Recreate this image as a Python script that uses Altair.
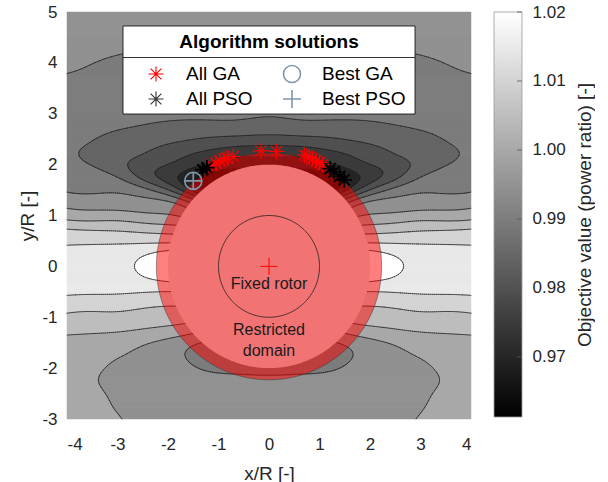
import numpy as np
import pandas as pd
import altair as alt

alt.data_transformers.disable_max_rows()
FONT = "Liberation Sans"

# ---------------- values ----------------
levels = [0.965, 0.970, 0.975, 0.980, 0.985, 0.990, 0.995, 1.000, 1.005, 1.010, 1.015]
c_min, c_max = 0.9613, 1.02
cbar_ticks = [0.97, 0.98, 0.99, 1.00, 1.01, 1.02]
x_ticks = [-4, -3, -2, -1, 0, 1, 2, 3, 4]
y_ticks = [-3, -2, -1, 0, 1, 2, 3, 4, 5]

# contour-line readings, left half (the map is mirror symmetric in x)
c0970_x = [-1.78, -1.68, -1.55, -1.37, -1.15, -0.95, -1.72]
c0970_y = [1.68, 1.85, 1.93, 1.99, 2.05, 2.10, 1.60]
c0975_x = [-2.22, -2.10, -1.95, -1.76, -1.45, -1.17, -0.60, 0.00, -2.05, -1.83]
c0975_y = [1.80, 1.95, 2.04, 2.12, 2.22, 2.29, 2.36, 2.38, 1.66, 1.55]
c0980_x = [-2.81, -2.70, -2.42, -2.00, -1.50, -0.70, 0.00, -2.55, -2.25, -1.88]
c0980_y = [1.92, 2.08, 2.25, 2.40, 2.50, 2.56, 2.58, 1.72, 1.58, 1.46]
c0985_x = [-3.78, -3.62, -3.35, -2.90, -2.50, -1.50, 0.00, -3.40, -3.00, -2.60, -2.20, -1.92]
c0985_y = [2.15, 2.38, 2.55, 2.70, 2.78, 2.88, 2.93, 1.93, 1.76, 1.60, 1.47, 1.38]
c0990_x = [-4.00, -3.50, -2.88, -2.20, -1.20, 0.00, -4.00, -3.40, -2.80, -2.30, -1.97]
c0990_y = [3.79, 3.98, 4.18, 4.32, 4.44, 4.50, 1.46, 1.43, 1.39, 1.33, 1.27]
c0995_x = [-4.0, -3.3, -2.6, -2.05]
c0995_y = [1.14, 1.11, 1.07, 1.03]
c1000_x = [-4.0, -3.3, -2.6, -2.12, -4.0, -3.3, -2.6, -2.0]
c1000_y = [0.91, 0.89, 0.86, 0.83, -1.35, -1.31, -1.24, -1.17]
c1005_x = [-4.0, -3.3, -2.6, -2.17, -4.0, -3.3, -2.6, -2.15]
c1005_y = [0.74, 0.71, 0.67, 0.64, -0.92, -0.89, -0.84, -0.79]
c1010_x = [-4.0, -3.3, -2.6, -2.2, -4.0, -3.3, -2.6, -2.2]
c1010_y = [0.42, 0.43, 0.45, 0.46, -0.57, -0.55, -0.52, -0.50]
c1015_x = [-2.65, -2.60, -2.45, -2.22, -2.60, -2.45, -2.22]
c1015_y = [0.00, 0.12, 0.22, 0.28, -0.12, -0.22, -0.27]
# lower lobe: large oval (0.995) and crescent under the domain (0.990)
c0995b_x = [-2.90, -3.05, -3.22, -3.37, -3.39, -3.30, -3.01, -2.50, -2.00]
c0995b_y = [-3.00, -2.82, -2.55, -2.25, -2.31, -2.05, -1.82, -1.55, -1.42]
c0990b_x = [-1.66, -1.50, -1.17, -0.60, 0.00]
c0990b_y = [-1.78, -1.95, -2.07, -2.12, -2.14]

# readings of the fill band inside the contour regions
band_x = [-4, -2, 0, -4, -1, -3, -4, -3.5, -3.3, -2.5, -4,
          -4, -4, -4, -3, -1.5, 0, -3.6, -2.2, 0, -4, -4, 0, -4, -3.95,
          -3.2, -2.2, 0, -3.3, 0,
          -2.5, -1.5, 0,
          -2.0, -1.2, 0,
          -1.5,
          -4, -3, -2.1, -4, -3, -4, -3, -4, -3,
          -4, -4, -4, -3, -2.45, -2.25, -3, -3,
          -4, -3, -4, -3,
          -4, -4, -4, -3.6, -2.55, -3.5, -3.3, -3.6, -3.15, -3.5,
          -2.5, -1.5, 0, -2.9, -2.0, -1.0, 0, -2.0, -2.6, -2.7, -3.1,
          -1.3, 0]
band_y = [5, 5, 5, 4.4, 4.8, 4.7, 4.0, 4.3, 4.5, 4.6, 4.7,
          3.2, 2.5, 1.9, 3.4, 3.6, 3.6, 1.75, 4.0, 4.2, 3.5, 2.15, 3.3, 2.35, 2.0,
          2.3, 2.6, 2.75, 2.1, 3.0,
          2.0, 2.35, 2.48,
          1.85, 2.17, 2.28,
          1.75,
          1.3, 1.25, 1.16, 1.02, 1.0, 0.82, 0.8, 0.58, 0.57,
          0.2, 0.0, -0.3, 0.0, 0.0, 0.0, 0.3, -0.35,
          -0.74, -0.72, -1.13, -1.1,
          -1.8, -2.5, -3.0, -2.9, -1.4, -1.6, -2.95, -2.2, -3.0, -2.5,
          -2.5, -2.8, -2.8, -2.2, -1.8, -2.5, -3.0, -3.0, -2.95, -3.0, -2.4,
          -1.9, -2.0]
band_v = [0.9925, 0.9925, 0.9925, 0.9915, 0.9915, 0.9915, 0.9907, 0.9907, 0.991, 0.991, 0.9915,
          0.988, 0.9875, 0.9875, 0.988, 0.988, 0.988, 0.9875, 0.9885, 0.9893, 0.9885, 0.9865, 0.987,
          0.9868, 0.9868,
          0.9825, 0.9825, 0.9825, 0.9835, 0.9853,
          0.9775, 0.9775, 0.9775,
          0.9725, 0.9725, 0.9728,
          0.966,
          0.9925, 0.9925, 0.9925, 0.9975, 0.9975, 1.0025, 1.0025, 1.0075, 1.0075,
          1.012, 1.0125, 1.012, 1.0135, 1.017, 1.0185, 1.012, 1.012,
          1.0075, 1.0075, 1.0025, 1.0025,
          0.9975, 0.9975, 0.9975, 0.9972, 0.9975, 0.9975, 0.9966, 0.997, 0.9962, 0.9972,
          0.9925, 0.992, 0.992, 0.9928, 0.9925, 0.9915, 0.9922, 0.993, 0.9935, 0.9937, 0.9937,
          0.9885, 0.988]

# algorithm solutions
ga_x = [-1.13, -1.05, -0.97, -0.89, -0.83, -0.71, -0.16, 0.15, 0.70, 0.75, 0.80, 0.86, 0.94, 1.00, 1.06]
ga_y = [1.99, 2.03, 2.07, 2.11, 2.13, 2.16, 2.27, 2.26, 2.19, 2.17, 2.14, 2.11, 2.08, 2.04, 2.00]
pso_x = [-1.31, -1.23, 1.21, 1.29, 1.40, 1.49]
pso_y = [1.90, 1.94, 1.92, 1.86, 1.77, 1.70]
best_ga = (-1.50, 1.68)
best_pso = (-1.50, 1.68)

# geometry
r_domain_outer = 2.23
r_domain_inner = 2.00
r_rotor = 1.0
note_text = ["Fixed rotor", "Restricted", "domain"]
note_x = [0.0, 0.0, 0.0]
note_y = [-0.34, -1.25, -1.66]
legend_labels = ["All GA", "All PSO", "Best GA", "Best PSO"]

# ---------------- smooth surface through the readings ----------------
bx_c = np.arange(0.0, 5.41, 0.6)
by_c = np.arange(-3.5, 5.51, 0.25)
wx, wy = 0.6, 0.25


def basis_x(x):
    x = np.asarray(x, float)[:, None]
    g = np.exp(-((x - bx_c) / wx) ** 2) + np.exp(-((x + bx_c) / wx) ** 2)
    g[:, 0] *= 0.5
    return g


def basis_y(y):
    y = np.asarray(y, float)[:, None]
    return np.exp(-((y - by_c) / wy) ** 2)


readings = [
    (0.970, c0970_x, c0970_y), (0.975, c0975_x, c0975_y), (0.980, c0980_x, c0980_y),
    (0.985, c0985_x, c0985_y), (0.990, c0990_x, c0990_y), (0.995, c0995_x, c0995_y),
    (1.000, c1000_x, c1000_y), (1.005, c1005_x, c1005_y), (1.010, c1010_x, c1010_y),
    (1.015, c1015_x, c1015_y), (0.995, c0995b_x, c0995b_y), (0.990, c0990b_x, c0990b_y),
]
px, py, pv, pw = [], [], [], []
for lv, xs_, ys_ in readings:
    px += list(xs_); py += list(ys_); pv += [lv] * len(xs_); pw += [4.0] * len(xs_)
px += band_x; py += band_y; pv += band_v; pw += [1.5] * len(band_x)
px, py, pv, pw = map(np.array, (px, py, pv, pw))

Bx = basis_x(px)
By = basis_y(py)
A = (By[:, :, None] * Bx[:, None, :]).reshape(len(px), -1)
nyb, nxb = len(by_c), len(bx_c)


def d2(n):
    D = np.zeros((n - 2, n))
    for i in range(n - 2):
        D[i, i:i + 3] = [1.0, -2.0, 1.0]
    return D


Dy, Dx = d2(nyb), d2(nxb)
P = (0.004 * np.kron(Dy.T @ Dy, np.eye(nxb)) + 0.004 * np.kron(np.eye(nyb), Dx.T @ Dx)
     + 1e-5 * np.eye(nyb * nxb))
lhs = A.T @ (A * pw[:, None]) + P
rhs = A.T @ (pw * (pv - 1.0))
coef = np.linalg.solve(lhs, rhs).reshape(nyb, nxb)


def field(xg, yg):
    return 1.0 + basis_y(yg) @ coef @ basis_x(xg).T


# filled bands (one rect per run of equal band)
NXC, NYC = 404, 407
xe = np.linspace(-4, 4, NXC + 1)
ye = np.linspace(-3, 5, NYC + 1)
Fc = field((xe[:-1] + xe[1:]) / 2, (ye[:-1] + ye[1:]) / 2)
lev_arr = np.array(levels)
uppers = np.array(levels + [c_max])
band = np.searchsorted(lev_arr, Fc, side="right")
rects = []
open_ = {}
for j in range(NYC):
    b = band[j]
    cut = np.flatnonzero(np.diff(b)) + 1
    st = np.concatenate([[0], cut]).astype(int)
    en = np.concatenate([cut, [NXC]]).astype(int)
    cur = {}
    for s, e in zip(st, en):
        key = (int(s), int(e), int(b[s]))
        cur[key] = open_.pop(key) if key in open_ else j
    for key, j0 in open_.items():
        rects.append((key, j0, j))
    open_ = cur
for key, j0 in open_.items():
    rects.append((key, j0, NYC))
fill_df = pd.DataFrame({
    "x": [round(xe[k[0]], 4) for k, _, _ in rects],
    "x2": [round(xe[k[1]], 4) for k, _, _ in rects],
    "y": [round(ye[j0], 4) for _, j0, _ in rects],
    "y2": [round(ye[j1], 4) for _, _, j1 in rects],
    "c": [float(uppers[k[2]]) for k, _, _ in rects],
})

# contour lines (marching squares)
gx = np.linspace(-4, 4, 201)
gy = np.linspace(-3, 5, 201)
G = field(gx, gy)
segs = []
for lv in levels:
    ab = G >= lv
    cnt = ab[:-1, :-1].astype(int) + ab[:-1, 1:] + ab[1:, :-1] + ab[1:, 1:]
    jj, ii = np.nonzero((cnt > 0) & (cnt < 4))
    for j, i in zip(jj, ii):
        x0, x1, y0, y1 = gx[i], gx[i + 1], gy[j], gy[j + 1]
        f00, f10, f01, f11 = G[j, i], G[j, i + 1], G[j + 1, i], G[j + 1, i + 1]
        pts = []
        if (f00 >= lv) != (f10 >= lv):
            t = (lv - f00) / (f10 - f00); pts.append((x0 + t * (x1 - x0), y0))
        if (f10 >= lv) != (f11 >= lv):
            t = (lv - f10) / (f11 - f10); pts.append((x1, y0 + t * (y1 - y0)))
        if (f01 >= lv) != (f11 >= lv):
            t = (lv - f01) / (f11 - f01); pts.append((x0 + t * (x1 - x0), y1))
        if (f00 >= lv) != (f01 >= lv):
            t = (lv - f00) / (f01 - f00); pts.append((x0, y0 + t * (y1 - y0)))
        pairs = []
        if len(pts) == 2:
            pairs = [(pts[0], pts[1])]
        elif len(pts) == 4:
            pairs = [(pts[0], pts[1]), (pts[2], pts[3])]
        for p, q in pairs:
            mx, my = (p[0] + q[0]) / 2, (p[1] + q[1]) / 2
            if mx * mx + my * my < r_domain_inner ** 2:
                continue
            segs.append((round(p[0], 4), round(p[1], 4), round(q[0], 4), round(q[1], 4)))
seg_df = pd.DataFrame(segs, columns=["x", "y", "x2", "y2"])

# ---------------- chart ----------------
xscale = alt.Scale(domain=[-4, 4], nice=False, zero=False)
yscale = alt.Scale(domain=[-3, 5], nice=False, zero=False)
xaxis = alt.Axis(values=x_ticks, labelExpr="'' + datum.value", title="x/R [-]",
                 labelPadding=17, titlePadding=12)
yaxis = alt.Axis(values=y_ticks, labelExpr="'' + datum.value", title="y/R [-]",
                 labelPadding=10, titlePadding=5, titleX=-30)
cscale = alt.Scale(domain=[c_min, c_max], range=["#000000", "#ffffff"], interpolate="rgb")


def X(f="x"):
    return alt.X(f + ":Q", scale=xscale, axis=xaxis)


def Y(f="y"):
    return alt.Y(f + ":Q", scale=yscale, axis=yaxis)


fill = alt.Chart(fill_df).mark_rect(strokeWidth=0.5).encode(
    x=X(), x2="x2:Q", y=Y(), y2="y2:Q",
    color=alt.Color("c:Q", scale=cscale, legend=None),
    stroke=alt.Stroke("c:Q", scale=cscale, legend=None),
)
lines = alt.Chart(seg_df).mark_rule(color="#1a1a1a", strokeWidth=0.65, opacity=1,
                                    strokeCap="round").encode(
    x=X(), y=Y(), x2="x2:Q", y2="y2:Q")


def disk_df(r):
    t = np.linspace(np.pi, 0, 241)
    return pd.DataFrame({"x": r * np.cos(t), "y": r * np.sin(t), "y2": -r * np.sin(t)})


def ring_df(r):
    t = np.linspace(0, 2 * np.pi, 361)
    return pd.DataFrame({"x": r * np.cos(t), "y": r * np.sin(t), "i": np.arange(361)})


outer = alt.Chart(disk_df(r_domain_outer)).mark_area(color="#ff0000", opacity=0.5).encode(
    x=X(), y=Y(), y2="y2:Q")
inner = alt.Chart(disk_df(r_domain_inner)).mark_area(color="#f17373", opacity=1).encode(
    x=X(), y=Y(), y2="y2:Q")
outer_edge = alt.Chart(ring_df(r_domain_outer)).mark_line(color="#333333", strokeWidth=0.6,
                                                          opacity=0.8).encode(
    x=X(), y=Y(), order="i:Q")
rotor_edge = alt.Chart(ring_df(r_rotor)).mark_line(color="#1a1a1a", strokeWidth=0.8).encode(
    x=X(), y=Y(), order="i:Q")

notes = alt.Chart(pd.DataFrame({"x": note_x, "y": note_y, "t": note_text})).mark_text(
    font=FONT, fontSize=16, color="#1a1a1a", baseline="middle", align="center").encode(
    x=X(), y=Y(), text="t:N")

ASTER = "M-1,0L1,0M0,-1L0,1M-0.72,-0.72L0.72,0.72M-0.72,0.72L0.72,-0.72"
PLUS = "M-1,0L1,0M0,-1L0,1"
STEEL = "#7f97ae"

origin = alt.Chart(pd.DataFrame({"x": [0.0], "y": [0.0]})).mark_point(
    shape=PLUS, size=289, filled=False, color="#ff0000", strokeWidth=1, opacity=1).encode(x=X(), y=Y())
ga = alt.Chart(pd.DataFrame({"x": ga_x, "y": ga_y})).mark_point(
    shape=ASTER, size=240, filled=False, color="#ff0000", strokeWidth=1.1, opacity=1).encode(x=X(), y=Y())
pso = alt.Chart(pd.DataFrame({"x": pso_x, "y": pso_y})).mark_point(
    shape=ASTER, size=240, filled=False, color="#000000", strokeWidth=1.7, opacity=1).encode(x=X(), y=Y())
bga = alt.Chart(pd.DataFrame({"x": [best_ga[0]], "y": [best_ga[1]]})).mark_point(
    shape="circle", size=289, filled=False, color=STEEL, strokeWidth=1.6, opacity=1).encode(x=X(), y=Y())
bpso = alt.Chart(pd.DataFrame({"x": [best_pso[0]], "y": [best_pso[1]]})).mark_point(
    shape=PLUS, size=324, filled=False, color=STEEL, strokeWidth=1.6, opacity=1).encode(x=X(), y=Y())

# legend box (pixel layout inside the plot area)
LX0, LX1, LY0, LY1, LSEP = 56, 348, 14, 102, 45.5
one = pd.DataFrame({"a": [0]})
leg_box = alt.Chart(one).mark_rect(fill="white", stroke="#000000", strokeWidth=0.8).encode(
    x=alt.value(LX0), x2=alt.value(LX1), y=alt.value(LY0), y2=alt.value(LY1))
leg_sep = alt.Chart(one).mark_rule(color="#000000", strokeWidth=0.8).encode(
    x=alt.value(LX0), x2=alt.value(LX1), y=alt.value(LSEP))
leg_title = alt.Chart(one).mark_text(text="Algorithm solutions", font=FONT, fontSize=19,
                                     fontWeight="bold", color="#000000", align="center",
                                     baseline="middle").encode(x=alt.value(202), y=alt.value(30))
sym_x = [89, 89, 225, 225]
row_y = [62, 87, 62, 87]
sym_shape = [ASTER, ASTER, "circle", PLUS]
sym_color = ["#ff0000", "#333333", STEEL, STEEL]
sym_size = [225, 225, 289, 324]
sym_w = [1.1, 1.1, 1.6, 1.6]
leg_layers = [leg_box, leg_sep, leg_title]
for k in range(4):
    leg_layers.append(alt.Chart(one).mark_point(
        shape=sym_shape[k], size=sym_size[k], filled=False, color=sym_color[k],
        strokeWidth=sym_w[k], opacity=1).encode(x=alt.value(sym_x[k]), y=alt.value(row_y[k])))
    leg_layers.append(alt.Chart(one).mark_text(
        text=legend_labels[k], font=FONT, fontSize=19, color="#000000", align="left",
        baseline="middle").encode(x=alt.value(sym_x[k] + 30), y=alt.value(row_y[k])))

main = alt.layer(fill, lines, outer, inner, outer_edge, rotor_edge, notes, origin,
                 ga, pso, bga, bpso, *leg_layers).properties(width=404, height=407)

# colour bar
cb = alt.Chart(pd.DataFrame({"lo": [c_min], "hi": [c_max]})).mark_rect(
    color=alt.Gradient(gradient="linear",
                       stops=[alt.GradientStop(color="#000000", offset=0),
                              alt.GradientStop(color="#ffffff", offset=1)],
                       x1=0, x2=0, y1=1, y2=0),
    stroke="#999999", strokeWidth=0.8).encode(
    x=alt.value(0), x2=alt.value(28),
    y=alt.Y("lo:Q", scale=alt.Scale(domain=[c_min, c_max], nice=False, zero=False),
            axis=alt.Axis(orient="right", values=cbar_ticks, format=".2f",
                          title="Objective value (power ratio) [-]", titleAngle=270,
                          titleBaseline="top", labelPadding=10, titlePadding=10)),
    y2="hi:Q")
cb_ticks = alt.Chart(pd.DataFrame({"v": cbar_ticks})).mark_rule(
    color="#555555", strokeWidth=0.8).encode(
    y=alt.Y("v:Q", scale=alt.Scale(domain=[c_min, c_max], nice=False, zero=False)),
    x=alt.value(23), x2=alt.value(28))
cbar = alt.layer(cb, cb_ticks).properties(width=28, height=405)

chart = alt.hconcat(main, cbar, spacing=21).configure(
    font=FONT, padding={"left": 18, "top": 3, "right": 0, "bottom": 0}
).configure_view(stroke=None).configure_axis(
    labelFont=FONT, labelFontSize=17, labelColor="#262626",
    titleFont=FONT, titleFontSize=19, titleFontWeight="normal", titleColor="#262626",
    domain=False, ticks=False, grid=False)

chart.save("out.html", embed_options={"renderer": "svg", "actions": False})
